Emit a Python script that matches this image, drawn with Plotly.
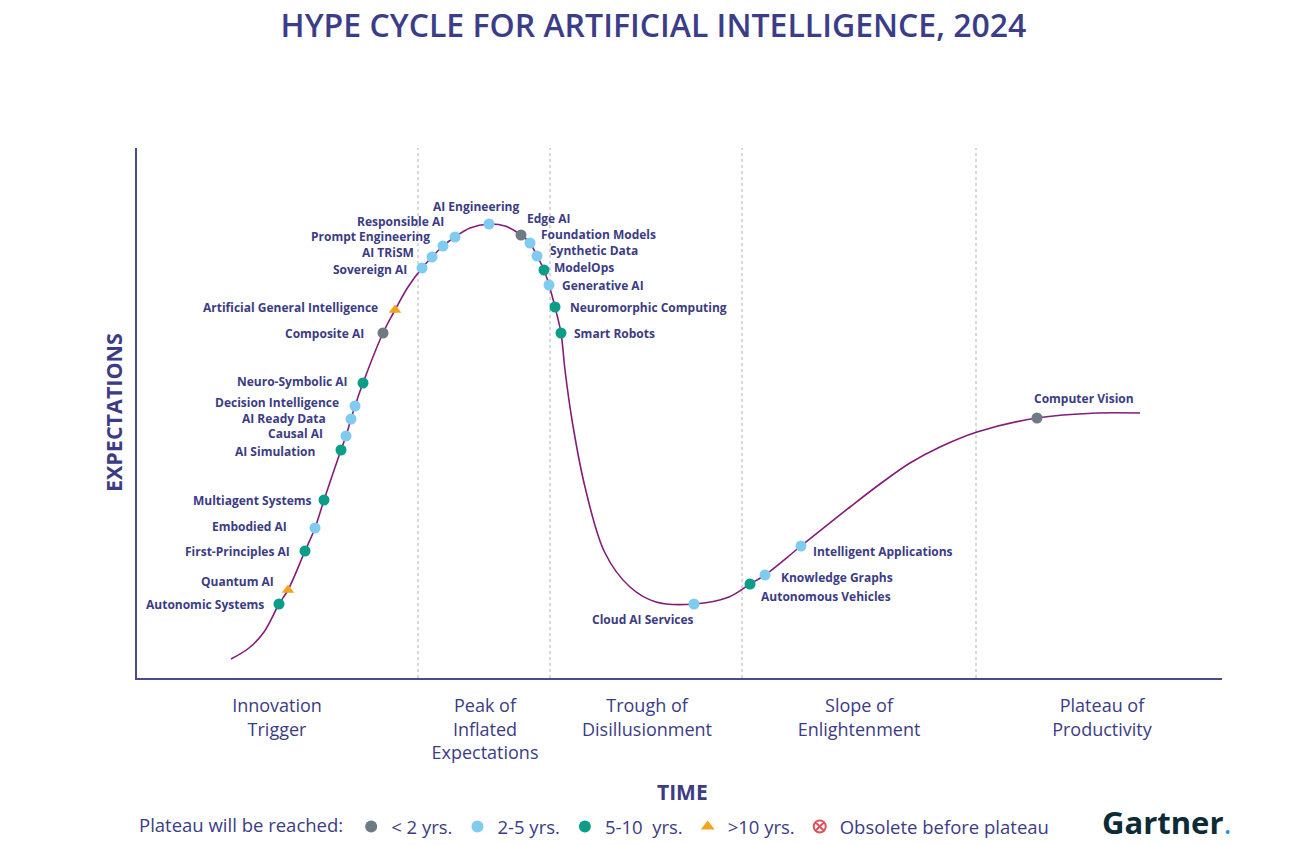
import plotly.graph_objects as go

# ---------------- data (units: x = time, y = expectations) ----------------
curve_x = [94, 112, 127, 142, 151, 168, 178, 187, 204, 209, 214, 218, 226, 246, 258, 271, 285, 295,
           306, 318, 333, 352, 368, 384, 393, 400, 407, 412, 418, 424, 428, 435, 448, 468, 493, 519,
           557, 592, 613, 628, 664, 713, 743, 773, 803, 840, 900, 960, 1003]
curve_y = [19, 30, 46, 74, 88, 127, 150, 178, 228, 242, 259, 272, 295, 345, 368, 391, 410, 421,
           432, 441, 450, 454, 452, 443, 435, 422, 408, 393, 371, 345, 308, 258, 191, 125, 91, 76,
           74, 81, 94, 103, 132, 171, 194, 215, 231, 246, 260, 265, 265]

tech_names = ["Autonomic Systems", "Quantum AI", "First-Principles AI", "Embodied AI",
              "Multiagent Systems", "AI Simulation", "Causal AI", "AI Ready Data",
              "Decision Intelligence", "Neuro-Symbolic AI", "Composite AI",
              "Artificial General Intelligence", "Sovereign AI", "AI TRiSM", "Prompt Engineering",
              "Responsible AI", "AI Engineering", "Edge AI", "Foundation Models", "Synthetic Data",
              "ModelOps", "Generative AI", "Neuromorphic Computing", "Smart Robots",
              "Cloud AI Services", "Autonomous Vehicles", "Knowledge Graphs",
              "Intelligent Applications", "Computer Vision"]
tech_x = [142, 151, 168, 178, 187, 204, 209, 214, 218, 226, 246, 258, 285, 295, 306, 318, 352,
          384, 393, 400, 407, 412, 418, 424, 557, 613, 628, 664, 900]
tech_y = [74, 88, 127, 150, 178, 228, 242, 259, 272, 295, 345, 368, 410, 421, 432, 441, 454,
          443, 435, 422, 408, 393, 371, 345, 74, 94, 103, 132, 260]
tech_cat = ["5-10", ">10", "5-10", "2-5", "5-10", "5-10", "2-5", "2-5", "2-5", "5-10", "<2",
            ">10", "2-5", "2-5", "2-5", "2-5", "2-5", "<2", "2-5", "2-5", "5-10", "2-5", "5-10",
            "5-10", "2-5", "5-10", "2-5", "2-5", "<2"]

phase_x = [140, 348, 510, 722, 965]
phase_labels = ["Innovation<br>Trigger", "Peak of<br>Inflated<br>Expectations",
                "Trough of<br>Disillusionment", "Slope of<br>Enlightenment",
                "Plateau of<br>Productivity"]
phase_bounds = [281, 413, 605, 839]

categories = ["<2", "2-5", "5-10", ">10", "obsolete"]
category_names = ["< 2 yrs.", "2-5 yrs.", "5-10  yrs.", ">10 yrs.", "Obsolete before plateau"]

# ---------------- styling ----------------
TXT = "#3b3c84"
AXIS = "#4a4b8e"
CURVE = "#841d78"
cat_color = {"<2": "#6e7a84", "2-5": "#80cbf0", "5-10": "#0a9e88", ">10": "#f4a41c",
             "obsolete": "#e0505a"}
cat_symbol = {"<2": "circle", "2-5": "circle", "5-10": "circle", ">10": "triangle-up",
              "obsolete": "circle-x-open"}
cat_size = {"<2": 11, "2-5": 11, "5-10": 11, ">10": 11, "obsolete": 11}

# label placement: (xanchor, dx px right, dy px down)
label_pos = {
    "Autonomic Systems": ("right", -13, 0),
    "Quantum AI": ("right", -12, -9),
    "First-Principles AI": ("right", -13, 0),
    "Embodied AI": ("right", -26, -2),
    "Multiagent Systems": ("right", -10, 0),
    "AI Simulation": ("right", -24, 1),
    "Causal AI": ("right", -21, -3),
    "AI Ready Data": ("right", -23, -1),
    "Decision Intelligence": ("right", -14, -4),
    "Neuro-Symbolic AI": ("right", -13, -2),
    "Composite AI": ("right", -17, 0),
    "Artificial General Intelligence": ("right", -15, -3),
    "Sovereign AI": ("right", -13, 1),
    "AI TRiSM": ("right", -16, -5),
    "Prompt Engineering": ("right", -11, -10),
    "Responsible AI": ("right", -9, -16),
    "AI Engineering": ("center", -13, -18),
    "Edge AI": ("left", 4, -17),
    "Foundation Models": ("left", 9, -9),
    "Synthetic Data": ("left", 11, -6),
    "ModelOps": ("left", 8, -3),
    "Generative AI": ("left", 11, 0),
    "Neuromorphic Computing": ("left", 13, 0),
    "Smart Robots": ("left", 11, 0),
    "Cloud AI Services": ("right", 2, 15),
    "Autonomous Vehicles": ("left", 9, 12),
    "Knowledge Graphs": ("left", 14, 2),
    "Intelligent Applications": ("left", 10, 5),
    "Computer Vision": ("left", -5, -20),
}

fig = go.Figure()

# dashed phase boundaries
for b in phase_bounds:
    fig.add_shape(type="line", x0=b, x1=b, y0=0, y1=530, xref="x", yref="y",
                  line=dict(color="#b0b0b4", width=1, dash="3px,3px"), layer="below")

# hype curve
fig.add_trace(go.Scatter(x=curve_x, y=curve_y, mode="lines",
                         line=dict(color=CURVE, width=1.6, shape="spline", smoothing=1.0),
                         showlegend=False, hoverinfo="skip"))

# technology markers by category (also the legend)
for cat, cname in zip(categories, category_names):
    xs = [x for x, c in zip(tech_x, tech_cat) if c == cat]
    ys = [y for y, c in zip(tech_y, tech_cat) if c == cat]
    fig.add_trace(go.Scatter(
        x=xs if xs else [None], y=ys if ys else [None], mode="markers", name=cname,
        marker=dict(color=cat_color[cat], symbol=cat_symbol[cat], size=cat_size[cat],
                    line=dict(width=0 if cat != "obsolete" else 1.2, color=cat_color[cat])),
        hoverinfo="skip"))

# technology labels
for name, x, y in zip(tech_names, tech_x, tech_y):
    anchor, dx, dy = label_pos[name]
    fig.add_annotation(x=x, y=y, xref="x", yref="y", text=name, showarrow=False,
                       xanchor=anchor, yanchor="middle", xshift=dx, yshift=-dy,
                       font=dict(family="Open Sans", size=12, color=TXT, weight="bold"))

# axis titles
fig.add_annotation(text="EXPECTATIONS", xref="paper", yref="paper", x=-0.0221, y=0.5,
                   xanchor="center", yanchor="middle", textangle=-90, showarrow=False,
                   font=dict(family="Open Sans", size=21.5, color=TXT, weight="bold"))
fig.add_annotation(text="TIME", xref="paper", yref="paper", x=0.503, y=0,
                   xanchor="center", yanchor="middle", showarrow=False, yshift=-114,
                   font=dict(family="Open Sans", size=21, color=TXT, weight="bold"))

# Gartner logo text
fig.add_annotation(text="<b>Gartner</b><span style='color:#1f8fd8'>.</span>", xref="paper",
                   yref="paper", x=1.0, y=0, xanchor="right", yanchor="middle",
                   showarrow=False, yshift=-144, xshift=12,
                   font=dict(family="Open Sans", size=31, color="#0b2b36"))

fig.update_layout(
    width=1291, height=837,
    margin=dict(l=129, r=77, t=140, b=167, autoexpand=False),
    paper_bgcolor="white", plot_bgcolor="white",
    title=dict(text="HYPE CYCLE FOR ARTIFICIAL INTELLIGENCE, 2024", x=0.5, xanchor="center",
               yref="container", y=1 - 7 / 837, yanchor="top", pad=dict(t=0, b=0),
               font=dict(family="Open Sans", size=32, color="#3c3d88", weight=600)),
    xaxis=dict(range=[0, 1085], showgrid=False, zeroline=False, showline=True,
               linecolor=AXIS, linewidth=1.5, tickmode="array", tickvals=phase_x,
               ticktext=phase_labels, ticks="", ticklabelstandoff=11,
               tickfont=dict(family="Open Sans", size=18, color=TXT), fixedrange=True),
    yaxis=dict(range=[0, 530], showgrid=False, zeroline=False, showline=True,
               linecolor=AXIS, linewidth=1.5, showticklabels=False, ticks="",
               fixedrange=True),
    legend=dict(orientation="h", x=0, xanchor="left", y=-149 / 530, yanchor="middle",
                title=dict(text="Plateau will be reached:",
                           font=dict(family="Open Sans", size=18.5, color=TXT)),
                font=dict(family="Open Sans", size=18.5, color=TXT),
                itemsizing="constant", bgcolor="rgba(0,0,0,0)", tracegroupgap=0),
    hovermode=False,
    showlegend=True,
)

fig.write_html("out.html")
